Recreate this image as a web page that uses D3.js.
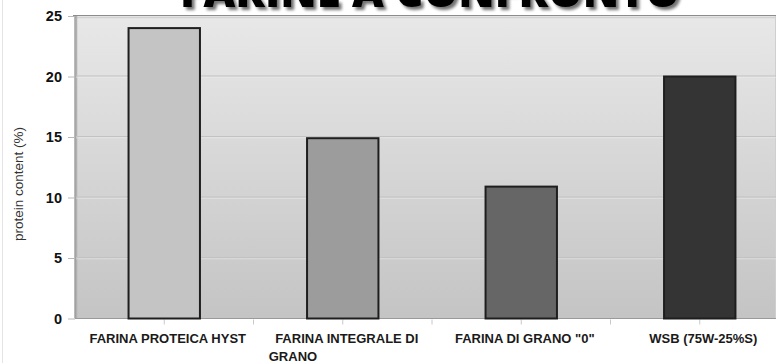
<!DOCTYPE html>
<html>
<head>
<meta charset="utf-8">
<script src="https://cdn.jsdelivr.net/npm/d3@7"></script>
<style>
  html, body { margin: 0; padding: 0; background: #fff; }
  svg { display: block; }
</style>
</head>
<body>
<svg id="chart" width="777" height="363"></svg>
<script>
// Flour protein comparison
const categories = ["FARINA PROTEICA HYST", "FARINA INTEGRALE DI GRANO", "FARINA DI GRANO \"0\"", "WSB (75W-25%S)"];
const proteinValues = [24, 14.9, 10.9, 20];
const barFills = ["#c4c4c4", "#9c9c9c", "#666666", "#343434"];
const yTicks = [0, 5, 10, 15, 20, 25];
const titleText = "FARINE A CONFRONTO";
const yAxisTitle = "protein content (%)";

const W = 777, H = 363;
const plotLeft = 75, plotTop = 16, plotBottom = 318.5, plotRight = 776;

const svg = d3.select("#chart");
const defs = svg.append("defs");

const grad = defs.append("linearGradient").attr("id", "bg").attr("x1", 0).attr("y1", 0).attr("x2", 0).attr("y2", 1);
grad.append("stop").attr("offset", "0%").attr("stop-color", "#e8e8e8");
grad.append("stop").attr("offset", "100%").attr("stop-color", "#c4c4c4");

const shadow = defs.append("filter").attr("id", "tshadow").attr("x", "-5%").attr("y", "-20%").attr("width", "110%").attr("height", "160%");
shadow.append("feGaussianBlur").attr("in", "SourceAlpha").attr("stdDeviation", 1.6).attr("result", "b");
shadow.append("feOffset").attr("in", "b").attr("dx", 2.5).attr("dy", 3).attr("result", "o");
shadow.append("feComponentTransfer").attr("in", "o").attr("result", "s")
  .append("feFuncA").attr("type", "linear").attr("slope", 0.55);
const merge = shadow.append("feMerge");
merge.append("feMergeNode").attr("in", "s");
merge.append("feMergeNode").attr("in", "SourceGraphic");

// faint outer frame line on the left
svg.append("line").attr("x1", 2.5).attr("x2", 2.5).attr("y1", 0).attr("y2", H)
  .attr("stroke", "#e4e4e4").attr("stroke-width", 1);

const x = d3.scaleBand().domain(categories).range([plotLeft, 789]).paddingInner(0).paddingOuter(0);
const y = d3.scaleLinear().domain([0, 25]).range([plotBottom, plotTop]);

// plot background
svg.append("rect").attr("x", plotLeft).attr("y", plotTop).attr("width", plotRight - plotLeft).attr("height", plotBottom - plotTop)
  .attr("fill", "url(#bg)");
// frame: top and left edges with soft shadow
svg.append("line").attr("x1", plotLeft).attr("x2", plotRight).attr("y1", plotTop + 1.5).attr("y2", plotTop + 1.5).attr("stroke", "#d2d2d2").attr("stroke-width", 1.5);
svg.append("line").attr("x1", plotLeft + 1.5).attr("x2", plotLeft + 1.5).attr("y1", plotTop).attr("y2", plotBottom).attr("stroke", "#b0b0b0").attr("stroke-width", 1.5);
svg.append("line").attr("x1", plotLeft - 2).attr("x2", plotRight).attr("y1", plotTop - 0.5).attr("y2", plotTop - 0.5).attr("stroke", "#8c8c8c").attr("stroke-width", 1.2);
svg.append("line").attr("x1", plotLeft).attr("x2", plotLeft).attr("y1", plotTop - 1).attr("y2", plotBottom).attr("stroke", "#8c8c8c").attr("stroke-width", 1.2);
svg.append("line").attr("x1", plotRight - 0.5).attr("x2", plotRight - 0.5).attr("y1", plotTop).attr("y2", plotBottom).attr("stroke", "#cfcfcf").attr("stroke-width", 1);

// gridlines
const grid = svg.append("g");
yTicks.filter(t => t > 0 && t < 25).forEach(t => {
  grid.append("line").attr("x1", plotLeft + 1).attr("x2", plotRight).attr("y1", y(t) - 0.5).attr("y2", y(t) - 0.5)
    .attr("stroke", "#c2c2c2").attr("stroke-width", 1.2);
  grid.append("line").attr("x1", plotLeft + 1).attr("x2", plotRight).attr("y1", y(t) + 0.8).attr("y2", y(t) + 0.8)
    .attr("stroke", "#f0f0f0").attr("stroke-width", 0.8).attr("opacity", 0.6);
});
// baseline
svg.append("line").attr("x1", plotLeft).attr("x2", plotRight).attr("y1", plotBottom).attr("y2", plotBottom).attr("stroke", "#9a9a9a").attr("stroke-width", 1);

// y axis
const yAxis = d3.axisLeft(y).tickValues(yTicks).tickSize(7).tickPadding(6);
const gy = svg.append("g").attr("transform", `translate(${plotLeft},0)`).call(yAxis);
gy.select(".domain").remove();
gy.selectAll(".tick line").attr("stroke", "#b8b8b8");
gy.selectAll(".tick text").attr("font-family", "Liberation Sans, Arial, sans-serif")
  .attr("font-size", 14.5).attr("font-weight", "bold").attr("fill", "#111");

// x ticks at band centres and band boundaries
const xTickPos = [];
categories.forEach((c, i) => {
  xTickPos.push(x(c) + x.bandwidth() / 2);
  if (i > 0) xTickPos.push(x(c));
});
svg.append("g").selectAll("line").data(xTickPos).join("line")
  .attr("x1", d => d).attr("x2", d => d).attr("y1", plotBottom + 1).attr("y2", plotBottom + 6)
  .attr("stroke", "#c8c8c8").attr("stroke-width", 1);

// bars
const barW = x.bandwidth() * 0.4;
svg.append("g").selectAll("rect").data(categories).join("rect")
  .attr("x", d => x(d) + (x.bandwidth() - barW) / 2)
  .attr("y", (d, i) => y(proteinValues[i]))
  .attr("width", barW)
  .attr("height", (d, i) => y(0) - y(proteinValues[i]))
  .attr("fill", (d, i) => barFills[i])
  .attr("stroke", "#1e1e1e").attr("stroke-width", 2);

// category labels
const lab = svg.append("g").attr("font-family", "Liberation Sans, Arial, sans-serif")
  .attr("font-size", 13).attr("font-weight", "bold").attr("fill", "#1a1a1a");
categories.forEach((c, i) => {
  const cx = x(c) + x.bandwidth() / 2;
  if (c === "FARINA INTEGRALE DI GRANO") {
    lab.append("text").attr("x", cx + 4).attr("y", 343).attr("text-anchor", "middle").text("FARINA INTEGRALE DI");
    lab.append("text").attr("x", cx - 74).attr("y", 361).attr("text-anchor", "start").text("GRANO");
  } else {
    lab.append("text").attr("x", cx + 3.5).attr("y", 343).attr("text-anchor", "middle").text(c);
  }
});

// y axis title
svg.append("text").attr("transform", "translate(23,184) rotate(-90)")
  .attr("text-anchor", "middle").attr("font-family", "Liberation Sans, Arial, sans-serif")
  .attr("font-size", 13.5).attr("fill", "#333").text(yAxisTitle);

// chart title (sits partly above the frame)
svg.append("text").attr("x", 430).attr("y", 7).attr("text-anchor", "middle")
  .attr("font-family", "Open Sans, sans-serif").attr("font-weight", 800).attr("font-size", 46)
  .attr("textLength", 500).attr("lengthAdjust", "spacingAndGlyphs")
  .attr("fill", "#000").attr("filter", "url(#tshadow)").text(titleText);
</script>
</body>
</html>
